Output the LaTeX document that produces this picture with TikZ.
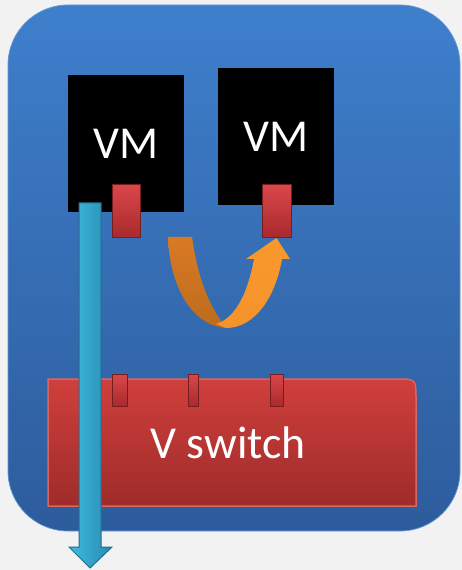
\documentclass[tikz,border=0pt]{standalone}
\usepackage{fontspec}
\setmainfont{Carlito}
\definecolor{hostTop}{HTML}{3E7FCC}
\definecolor{hostBot}{HTML}{2D5C9C}
\definecolor{portTop}{HTML}{D9474A}
\definecolor{portBot}{HTML}{A8292C}
\definecolor{swTop}{HTML}{D03F3C}
\definecolor{swBot}{HTML}{9E2C2A}
\definecolor{cyanTop}{HTML}{3DBCE0}
\definecolor{cyanBot}{HTML}{2A89B0}
\definecolor{orDark}{HTML}{D87A22}
\definecolor{orLight}{HTML}{F8982C}

\begin{document}
\begin{tikzpicture}[
            x = 0.02cm, y = -0.02cm,
            every node/.style={inner sep=0pt, outer sep=0pt},
            vm/.style={fill=black, minimum width=2.32cm, minimum height=2.74cm, anchor=north west,
                       text=white, font=\fontsize{26}{30}\selectfont},
            port/.style={top color=portTop, bottom color=portBot, draw=portBot!70!black, line width=.02cm,
                         minimum width=.58cm, minimum height=1.06cm, anchor=north west},
            swport/.style={port, minimum height=.66cm},
            ]
        \useasboundingbox[fill={rgb,255:red,242;green,242;blue,242}] (0,0) rectangle (462,570);
        % host
        \shade[top color=hostTop, bottom color=hostBot, draw=hostTop!80!white, rounded corners=1.2cm]
            (8,5) rectangle (460,531);
        % virtual machines
        \node[vm] (vma) at (68,75) {VM};
        \node[vm] (vmb) at (218,68) {VM};
        \node[port] (pa) at (112,185) {};
        \node[port] (pb) at (262,185) {};
        % v switch
        \shade[top color=swTop, bottom color=swBot, draw=swTop!80!white, line width=.03cm]
            (48,506) -- (48,379) -- (396,379) .. controls (416,379) .. (416,399) -- (416,506) -- cycle;
        \node[text=white, font=\fontsize{26}{30}\selectfont] (sw) at (228,443) {V switch};
        \node[swport, minimum width=.3cm] (sa) at (112,374) {};
        \node[swport, minimum width=.2cm] (sb) at (188,374) {};
        \node[swport, minimum width=.26cm] (sc) at (270,374) {};
        % traffic out of the host
        \shade[left color=cyanTop, right color=cyanBot, draw=cyanBot!80!black, line width=.02cm]
            (79,203) -- ++(22,0) -- ++(0,344) -- ++(11,0) -- ++(-22,21) -- ++(-21,-21) -- ++(10,0) -- cycle;
        % traffic between the two VMs
        \shade[top color=orDark, bottom color=orDark!88!black]
            (168,237) -- ++(24,0) .. controls (197,272) and (206,302) .. (226,328)
            .. controls (194,326) and (170,290) .. (168,237) -- cycle;
        \shade[top color=orLight, bottom color=orLight!85!orDark]
            (226,328) .. controls (256,328) and (276,295) .. (282,259) -- ++(8,0) -- (pb.south)
            -- (246,259) -- ++(8,0) .. controls (248,292) and (236,318) .. (216,324) -- cycle;
    \end{tikzpicture}
\end{document}
